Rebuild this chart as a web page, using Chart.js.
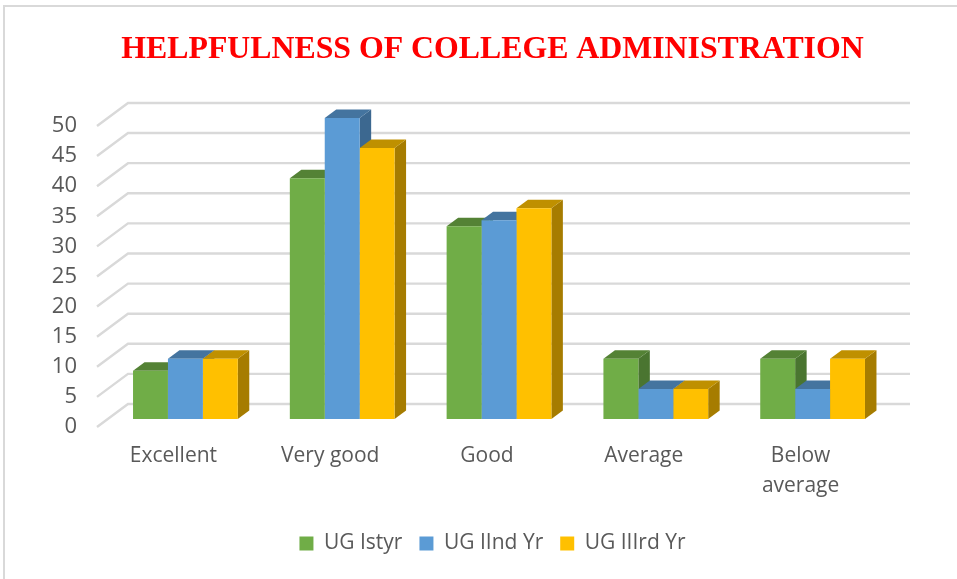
<!DOCTYPE html>
<html><head><meta charset="utf-8">
<style>
html,body{margin:0;padding:0;background:#fff;overflow:hidden}
#wrap{position:relative;width:957px;height:579px}
#edge{position:absolute;left:3px;top:5px;right:0;bottom:0;border-left:2px solid #d9d9d9;border-top:2px solid #d9d9d9;pointer-events:none}
</style>
<script src="https://cdn.jsdelivr.net/npm/chart.js@4"></script>
</head><body>
<div id="wrap"><canvas id="c" width="957" height="579"></canvas><div id="edge"></div></div>
<script>
const titleText = 'HELPFULNESS OF COLLEGE ADMINISTRATION';
const categories = ['Excellent', 'Very good', 'Good', 'Average', ['Below', 'average']];
const ugFirst = [8, 40, 32, 10, 10];
const ugSecond = [10, 50, 33, 5, 5];
const ugThird = [10, 45, 35, 5, 10];
const seriesNames = ['UG Istyr', 'UG IInd Yr', 'UG IIIrd Yr'];
const faceColors = ['#70AD47', '#5B9BD5', '#FFC000'];
const topColors = ['#548235', '#44749F', '#BF9000'];
const sideColors = ['#4A7530', '#3C6890', '#A67C00'];
const DX = 11.5, DY = 8.5;

const depthPlugin = {
  id: 'depth',
  beforeDatasetsDraw(chart) {
    const ctx = chart.ctx;
    const y = chart.scales.y;
    ctx.save();
    ctx.strokeStyle = '#d9d9d9';
    ctx.lineWidth = 2.4;
    y.ticks.forEach(t => {
      const py = y.getPixelForValue(t.value);
      ctx.beginPath();
      ctx.moveTo(97, py + 8);
      ctx.lineTo(128, py - 15);
      ctx.lineTo(910, py - 15);
      ctx.stroke();
    });
    chart.data.datasets.forEach((ds, i) => {
      chart.getDatasetMeta(i).data.forEach(bar => {
        const l = bar.x - bar.width / 2, r = bar.x + bar.width / 2, t = bar.y, b = bar.base;
        ctx.fillStyle = sideColors[i];
        ctx.beginPath();
        ctx.moveTo(r, t); ctx.lineTo(r + DX, t - DY); ctx.lineTo(r + DX, b - DY); ctx.lineTo(r, b);
        ctx.closePath(); ctx.fill();
        ctx.fillStyle = topColors[i];
        ctx.beginPath();
        ctx.moveTo(l, t); ctx.lineTo(l + DX, t - DY); ctx.lineTo(r + DX, t - DY); ctx.lineTo(r, t);
        ctx.closePath(); ctx.fill();
      });
    });
    ctx.restore();
  }
};

new Chart(document.getElementById('c'), {
  type: 'bar',
  data: {
    labels: categories,
    datasets: [ugFirst, ugSecond, ugThird].map((d, i) => ({
      label: seriesNames[i], data: d, backgroundColor: faceColors[i],
      borderWidth: 0, barPercentage: 1, categoryPercentage: 0.668
    }))
  },
  options: {
    responsive: false, animation: false,
    layout: { padding: { left: 40, right: 12, top: 0, bottom: 15 } },
    plugins: {
      tooltip: { enabled: false },
      title: {
        display: true, text: titleText, color: '#ff0000',
        font: { family: '"Liberation Serif"', size: 31.8, weight: 'bold', lineHeight: 1.2 },
        padding: { top: 31, bottom: 48.8 }
      },
      legend: {
        position: 'bottom',
        labels: {
          color: '#595959', boxWidth: 14, boxHeight: 14, padding: 17,
          font: { family: '"Open Sans"', size: 21 }
        }
      }
    },
    scales: {
      x: {
        grid: { display: false }, border: { display: false },
        ticks: { color: '#595959', font: { family: '"Open Sans"', size: 21, lineHeight: 1.43 }, labelOffset: -12, padding: 14, maxRotation: 0, autoSkip: false },
        afterFit(s) { s.height = 97; }
      },
      y: {
        min: 0, max: 50,
        grid: { display: false }, border: { display: false },
        ticks: { stepSize: 5, color: '#595959', font: { family: '"Open Sans"', size: 22 }, labelOffset: 8, padding: 22 },
        afterFit(s) { s.width = 67; }
      },
      y2: {
        position: 'right', min: 0, max: 50,
        grid: { display: false }, border: { display: false },
        ticks: { display: false },
        afterFit(s) { s.width = 54; }
      }
    }
  },
  plugins: [depthPlugin]
});
</script>
</body></html>
